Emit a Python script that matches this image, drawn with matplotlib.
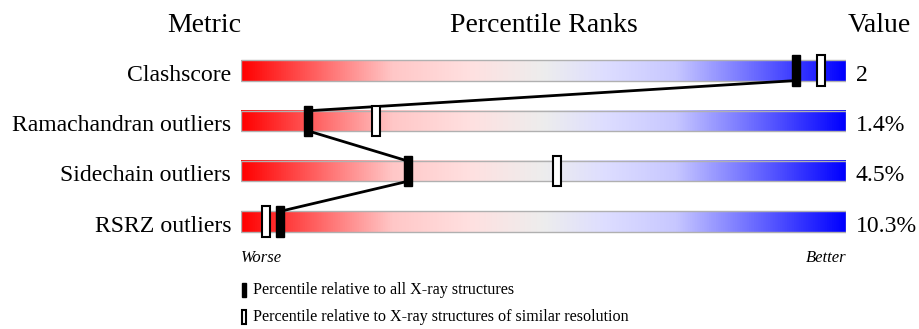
import numpy as np
import matplotlib
matplotlib.use("Agg")
import matplotlib.pyplot as plt
from matplotlib.colors import LinearSegmentedColormap
from matplotlib.patches import Rectangle

# data
metrics = ["Clashscore", "Ramachandran outliers", "Sidechain outliers", "RSRZ outliers"]
values = ["2", "1.4%", "4.5%", "10.3%"]
pct_all = [91.7, 11.1, 27.6, 6.4]       # percentile vs all X-ray structures
pct_similar = [95.9, 22.3, 52.2, 4.1]   # percentile vs similar resolution

headers = ["Metric", "Percentile Ranks", "Value"]
legend_labels = ["Percentile relative to all X-ray structures",
                 "Percentile relative to X-ray structures of similar resolution"]

plt.rcParams['font.family'] = ['Liberation Serif', 'DejaVu Serif']

fig = plt.figure(figsize=(9.19, 3.29), dpi=100)
ax = fig.add_axes([241 / 919, 0, 605 / 919, 1])
ax.set_xlim(0, 100)
ax.set_ylim(5.136, -1.401)
ax.axis('off')

# red -> light grey -> blue, fading fast near the ends
stops = [(0.0, (1, 0, 0)),
         (0.25, (1, 0.78, 0.78)),
         (0.38, (1, 0.88, 0.88)),
         (0.5, (0.93, 0.93, 0.93)),
         (0.6, (0.87, 0.87, 1)),
         (0.72, (0.78, 0.78, 1)),
         (1.0, (0, 0, 1))]
cmap = LinearSegmentedColormap.from_list('slider', stops)
grad = np.linspace(0, 1, 512).reshape(1, -1)

bar_h = 0.40
mark_h = 0.60
mark_w = 1.3

for i, name in enumerate(metrics):
    ax.imshow(grad, cmap=cmap, aspect='auto', interpolation='bilinear',
              extent=(0, 100, i + bar_h / 2, i - bar_h / 2), zorder=1)
    ax.add_patch(Rectangle((0, i - bar_h / 2), 100, bar_h, fill=False,
                           edgecolor='#b0b0b0', lw=1, zorder=2))
    ax.text(-1.65, i + 0.2, name, ha='right', va='baseline', fontsize=17.1)
    ax.text(101.6, i + 0.2, values[i], ha='left', va='baseline', fontsize=17.1)

# connecting line through the "all structures" markers
for i in range(len(metrics) - 1):
    ax.plot([pct_all[i], pct_all[i + 1]],
            [i + bar_h / 2, i + 1 - bar_h / 2], color='black', lw=2,
            zorder=3, solid_capstyle='butt')

for i in range(len(metrics)):
    ax.add_patch(Rectangle((pct_similar[i] - mark_w / 2, i - mark_h / 2),
                           mark_w, mark_h, facecolor='white',
                           edgecolor='black', lw=1.5, zorder=4))
    ax.add_patch(Rectangle((pct_all[i] - mark_w / 2, i - mark_h / 2),
                           mark_w, mark_h, facecolor='black',
                           edgecolor='black', lw=1, zorder=5))

ax.set_ylim(5.136, -1.401)

ax.text(0, -0.765, headers[0], ha='right', va='baseline', fontsize=20)
ax.text(50, -0.765, headers[1], ha='center', va='baseline', fontsize=20)
ax.text(100.3, -0.765, headers[2], ha='left', va='baseline', fontsize=20)

ax.text(0, 3.805, "Worse", ha='left', va='baseline', fontsize=12,
        style='italic')
ax.text(100, 3.805, "Better", ha='right', va='baseline', fontsize=12,
        style='italic')

# legend
leg_y = [4.37, 4.89]
ax.add_patch(Rectangle((0.15, leg_y[0] - 0.14), 0.75, 0.28, facecolor='black',
                       edgecolor='black', lw=1, clip_on=False))
ax.add_patch(Rectangle((0.15, leg_y[1] - 0.14), 0.75, 0.28, facecolor='white',
                       edgecolor='black', lw=1.5, clip_on=False))
for y, lab in zip(leg_y, legend_labels):
    ax.text(1.95, y, lab, ha='left', va='center', fontsize=11.6)

fig.savefig("out.png", dpi=100)
